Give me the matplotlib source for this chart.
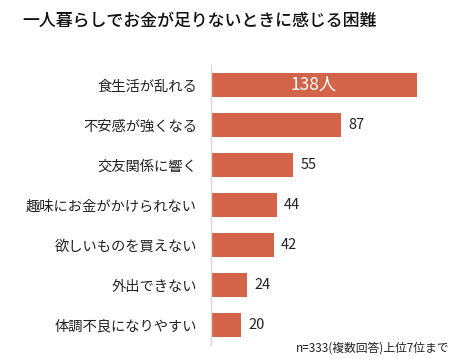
import matplotlib
matplotlib.use("Agg")
import matplotlib.pyplot as plt

plt.rcParams['font.family'] = ['Noto Sans CJK JP', 'DejaVu Sans']

title = "一人暮らしでお金が足りないときに感じる困難"
labels = ["食生活が乱れる", "不安感が強くなる", "交友関係に響く", "趣味にお金がかけられない",
          "欲しいものを買えない", "外出できない", "体調不良になりやすい"]
values = [138, 87, 55, 44, 42, 24, 20]
note = "n=333(複数回答)上位7位まで"

W, H = 450, 359
fig = plt.figure(figsize=(W / 100, H / 100), dpi=100)
ax = fig.add_axes([211 / W, 1 - 345 / H, 229 / W, 280 / H])

bar_color = "#D3644A"
pos = list(range(len(values)))
ax.barh(pos, values, height=0.6, color=bar_color)
ax.set_ylim(len(values) - 0.5, -0.5)
ax.set_xlim(0, 153.4)

ax.set_yticks(pos)
ax.set_yticklabels(labels, fontsize=10.3, color="#222222")
ax.tick_params(axis="y", length=0, pad=10)
ax.set_xticks([])
for s in ["top", "right", "bottom"]:
    ax.spines[s].set_visible(False)
ax.spines["left"].set_color("#D9D9D9")
ax.spines["left"].set_linewidth(1.0)

for i, v in enumerate(values):
    if i == 0:
        ax.text(v / 2, i, f"{v}人", ha="center", va="center", color="white", fontsize=12.5)
    else:
        ax.text(v + 5, i, str(v), ha="left", va="center", color="#222222", fontsize=10.5)

fig.text(22 / W, 1 - 21 / H, title, ha="left", va="center", fontsize=12.2,
         fontweight="medium", color="#111111")
fig.text(449 / W, 1 - 348 / H, note, ha="right", va="center", fontsize=8.5, color="#222222")

fig.savefig("out.png", dpi=100)
